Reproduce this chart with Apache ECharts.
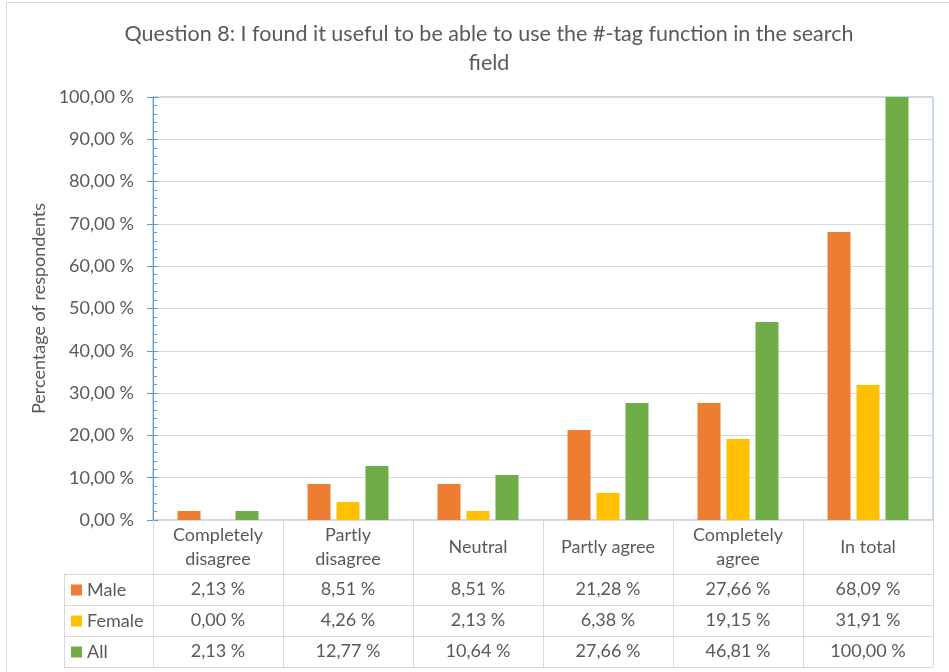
<!DOCTYPE html>
<html>
<head>
<meta charset="utf-8">
<script src="https://cdn.jsdelivr.net/npm/echarts@6/dist/echarts.min.js"></script>
<style>
  html, body { margin: 0; padding: 0; background: #fff; }
  #chart1 { width: 949px; height: 672px; }
</style>
</head>
<body>
<div id="chart1"></div>
<script>
var categories = ['Completely\ndisagree', 'Partly\ndisagree', 'Neutral', 'Partly agree', 'Completely\nagree', 'In total'];
var male = [2.13, 8.51, 8.51, 21.28, 27.66, 68.09];
var female = [0.00, 4.26, 2.13, 6.38, 19.15, 31.91];
var all = [2.13, 12.77, 10.64, 27.66, 46.81, 100.00];
var seriesNames = ['Male', 'Female', 'All'];
var colors = ['#ED7D31', '#FFC000', '#70AD47'];
var yTicks = [0, 10, 20, 30, 40, 50, 60, 70, 80, 90, 100];

var font = 'Lato, "Open Sans", sans-serif';
var textGray = '#595959';
var lineGray = '#d9d9d9';

// plot area (px)
var gLeft = 153, gRight = 933, gTop = 97, gBottom = 520;
var rows = [574, 605, 636, 667];

function pct(v) {
  return v.toFixed(2).replace('.', ',') + ' %';
}

var chart = echarts.init(document.getElementById('chart1'));

// table value rows as extra category axes under the plot
var rowData = [male, female, all];
var tableAxes = rowData.map(function (arr, r) {
  return {
    type: 'category',
    data: categories,
    position: 'bottom',
    offset: (rows[r] + rows[r + 1]) / 2 - gBottom,
    axisLine: { show: false },
    axisTick: { show: false },
    axisLabel: {
      margin: 0,
      interval: 0,
      verticalAlign: 'middle',
      fontFamily: font,
      fontSize: 18,
      color: textGray,
      formatter: function (v, i) { return pct(arr[i]); }
    }
  };
});

// table borders
var tableLines = [];
rows.forEach(function (y) {
  tableLines.push({
    type: 'line',
    shape: { x1: 64, y1: y + 0.5, x2: gRight, y2: y + 0.5 },
    style: { stroke: lineGray, lineWidth: 1 }
  });
});
tableLines.push({
  type: 'line',
  shape: { x1: 64.5, y1: rows[0], x2: 64.5, y2: rows[3] },
  style: { stroke: lineGray, lineWidth: 1 }
});
// outer chart border
tableLines.push({
  type: 'rect',
  shape: { x: 6.5, y: 2.5, width: 1000, height: 1000 },
  style: { fill: 'none', stroke: lineGray, lineWidth: 1 },
  z: -1
});

var option = {
  animation: false,
  backgroundColor: '#fff',
  title: {
    text: 'Question 8: I found it useful to be able to use the #-tag function in the search\nfield',
    left: 484,
    textAlign: 'center',
    top: 15,
    textStyle: {
      fontFamily: font,
      fontSize: 21.5,
      fontWeight: 'normal',
      color: textGray,
      lineHeight: 29
    }
  },
  legend: {
    orient: 'vertical',
    left: 71,
    top: rows[0] + 6,
    padding: 0,
    itemWidth: 11,
    itemHeight: 11,
    itemGap: 11,
    icon: 'rect',
    selectedMode: false,
    data: seriesNames,
    textStyle: {
      fontFamily: font,
      fontSize: 18,
      color: textGray,
      lineHeight: 20
    }
  },
  grid: {
    left: gLeft,
    right: 949 - gRight,
    top: gTop,
    bottom: 672 - gBottom,
    show: true,
    borderColor: '#8DB3E2',
    borderWidth: 1
  },
  xAxis: [{
    type: 'category',
    data: categories,
    axisLine: { lineStyle: { color: lineGray } },
    axisTick: {
      show: true,
      length: rows[3] - gBottom,
      lineStyle: { color: lineGray }
    },
    axisLabel: {
      interval: 0,
      margin: 27,
      verticalAlign: 'middle',
      fontFamily: font,
      fontSize: 18,
      lineHeight: 24,
      color: textGray
    }
  }].concat(tableAxes),
  yAxis: [{
    type: 'value',
    min: yTicks[0],
    max: yTicks[yTicks.length - 1],
    interval: 10,
    name: 'Percentage of respondents',
    nameLocation: 'middle',
    nameRotate: 90,
    nameGap: 103,
    nameTextStyle: { fontFamily: font, fontSize: 18, color: textGray },
    axisLine: { show: true, lineStyle: { color: '#5B9BD5' } },
    axisTick: { show: true, length: 6, lineStyle: { color: '#5B9BD5' } },
    axisLabel: {
      margin: 19,
      fontFamily: font,
      fontSize: 18,
      color: textGray,
      formatter: function (v) { return pct(v); }
    },
    splitLine: { lineStyle: { color: lineGray } }
  }, {
    type: 'value',
    position: 'left',
    min: yTicks[0],
    max: yTicks[yTicks.length - 1],
    interval: 10,
    axisLine: { show: true, lineStyle: { color: '#5B9BD5' } },
    axisTick: { show: true, inside: true, length: 5, lineStyle: { color: '#5B9BD5' } },
    minorTick: { show: true, splitNumber: 5, length: 4, lineStyle: { color: '#5B9BD5' } },
    axisLabel: { show: false },
    splitLine: { show: false }
  }],
  series: [male, female, all].map(function (arr, i) {
    return {
      name: seriesNames[i],
      type: 'bar',
      data: arr,
      barWidth: 23,
      barGap: '26%',
      itemStyle: { color: colors[i] }
    };
  }),
  graphic: tableLines
};

chart.setOption(option);
</script>
</body>
</html>
